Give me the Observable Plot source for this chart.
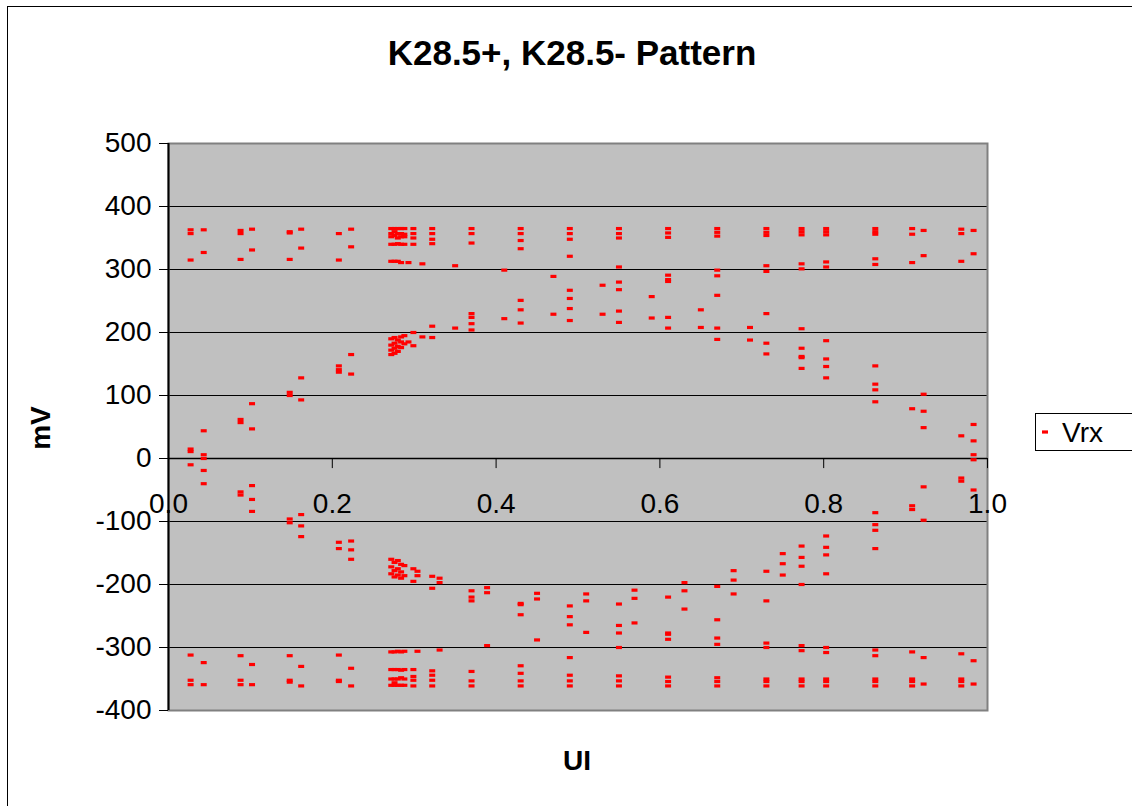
<!DOCTYPE html>
<html><head><meta charset="utf-8">
<script src="https://cdn.jsdelivr.net/npm/d3@7"></script>
<script src="https://cdn.jsdelivr.net/npm/@observablehq/plot@0.6"></script>
<style>html,body{margin:0;padding:0;background:#fff;} svg{display:block}</style>
</head><body><div id="chart"></div><script>
const titleText = "K28.5+, K28.5- Pattern";
const xTitle = "UI";
const yTitle = "mV";
const seriesName = "Vrx";
const xTicks = [0, 0.2, 0.4, 0.6, 0.8, 1.0];
const yTicks = [-400, -300, -200, -100, 0, 100, 200, 300, 400, 500];

// sampling positions (UI) and the voltages (mV) read at each
const uiCols = [0.027, 0.043, 0.088, 0.102, 0.148, 0.162, 0.208, 0.223,
  0.272, 0.276, 0.280, 0.284, 0.288, 0.293, 0.299, 0.304, 0.310, 0.322, 0.331,
  0.350, 0.370, 0.389, 0.410, 0.430, 0.450, 0.470, 0.490, 0.510, 0.530, 0.550,
  0.569, 0.590, 0.610, 0.630, 0.650, 0.670, 0.690, 0.710, 0.730, 0.750, 0.773,
  0.803, 0.863, 0.908, 0.922, 0.968, 0.983];
const mvCols = [
  [363, 357, 315, 15, 11, -10, -312, -352, -359],
  [363, 327, 44, 6, 0, -19, -40, -324, -359],
  [362, 357, 316, 62, 57, -53, -58, -313, -352, -359],
  [364, 331, 87, 47, -43, -65, -84, -327, -359],
  [360, 358, 316, 105, 100, -96, -102, -313, -352, -355],
  [364, 334, 128, 93, -89, -107, -124, -330, -361],
  [357, 315, 147, 141, 137, -133, -143, -312, -352, -354],
  [364, 336, 165, 134, -131, -145, -160, -333, -361],
  [365, 357, 352, 340, 313, 190, 180, 172, 165, -160, -172, -183, -307, -335, -350, -360],
  [365, 360, 354, 340, 313, 192, 183, 175, 167, -165, -178, -188, -307, -335, -350, -356, -360],
  [365, 357, 350, 341, 313, 188, 178, 170, -162, -175, -185, -306, -335, -350, -360],
  [365, 357, 352, 340, 311, 193, 185, 176, -168, -180, -190, -307, -336, -348, -360],
  [365, 356, 352, 340, 195, 182, -170, -186, -306, -335, -350, -360],
  [311, 185],
  [365, 357, 350, 340, 200, 179, -175, -195, -335, -346, -352, -361],
  [-179, -186, -306],
  [309, 193],
  [365, 357, 348, 341, 192, 210, -187, -206, -337, -344, -352, -361],
  [-190, -197, -304],
  [306, 207],
  [365, 357, 342, 230, 224, 214, 204, -210, -220, -226, -338, -353, -361],
  [-205, -213, -297],
  [299, 222],
  [365, 357, 346, 333, 251, 236, 215, -230, -232, -248, -329, -341, -353, -361],
  [-214, -223, -288],
  [289, 229],
  [365, 357, 348, 321, 267, 254, 238, 219, -234, -251, -264, -316, -344, -353, -361],
  [-215, -226, -276],
  [275, 229],
  [365, 357, 350, 304, 280, 268, 234, 216, -231, -265, -277, -300, -345, -353, -361],
  [-209, -222, -261],
  [257, 223],
  [365, 358, 351, 291, 284, 281, 224, 207, -220, -277, -279, -287, -347, -354, -361],
  [-197, -210, -239],
  [236, 208],
  [365, 359, 353, 299, 290, 259, 207, 189, -203, -256, -285, -295, -348, -354, -361],
  [-178, -193, -215],
  [208, 188],
  [365, 359, 354, 306, 297, 230, 183, 166, -179, -226, -293, -300, -350, -354, -361],
  [-151, -167, -185],
  [365, 360, 355, 309, 301, 206, 175, 162, 160, 143, -139, -157, -171, -200, -297, -305, -350, -354, -361],
  [365, 360, 355, 312, 304, 187, 158, 146, 128, -123, -141, -153, -183, -300, -308, -350, -354, -361],
  [365, 360, 356, 317, 308, 147, 118, 109, 90, -86, -105, -114, -143, -304, -313, -350, -354, -361],
  [365, 356, 311, 79, -75, -81, -307, -350, -354, -361],
  [362, 322, 102, 75, 49, -45, -98, -316, -358],
  [364, 357, 313, 36, -31, -36, -310, -350, -354, -361],
  [362, 325, 54, 28, 6, -2, -50, -321, -358]
];

const data = uiCols.flatMap((u, i) => mvCols[i].map(v => ({ui: u, mv: v})));

const dash = {draw(ctx) { ctx.rect(-3, -1.6, 6, 3.2); }};
const FONT = "'Liberation Sans', Arial, sans-serif";

const plot = Plot.plot({
  width: 1132, height: 806,
  marginLeft: 168, marginRight: 145, marginTop: 143, marginBottom: 96,
  style: {fontFamily: FONT, background: "white", color: "black", overflow: "visible"},
  x: {domain: [0, 1], axis: null},
  y: {domain: [-400, 500], axis: null},
  marks: [
    Plot.frame({fill: "#c0c0c0", stroke: null}),
    Plot.gridY(yTicks.filter(d => d !== 0 && d !== 500 && d !== -400), {stroke: "black", strokeOpacity: 1, strokeWidth: 1}),
    Plot.frame({stroke: "#808080", strokeWidth: 2}),
    Plot.ruleY([0], {stroke: "black", strokeWidth: 1.5}),
    Plot.ruleX(xTicks, {x: d => d, y1: 0, y2: -16, stroke: "black", strokeWidth: 1}),
    Plot.ruleX([0], {stroke: "black", strokeWidth: 2}),
    Plot.axisY(yTicks, {tickSize: 9, tickPadding: 8, fontSize: 28, stroke: "black", label: null, tickFormat: d => String(d)}),
    Plot.text(xTicks, {x: d => d, y: 0, text: d => d.toFixed(1), dy: 46, fontSize: 28, fill: "black"}),
    Plot.dot(data, {x: "ui", y: "mv", symbol: dash, r: 3, fill: "#ff0000", stroke: null})
  ]
});

document.getElementById("chart").appendChild(plot);
const svg = d3.select(plot);
svg.append("rect").attr("x", 7.5).attr("y", 6.5).attr("width", 1200).attr("height", 900)
  .attr("fill", "none").attr("stroke", "black").attr("stroke-width", 1);
svg.append("text").attr("x", 572).attr("y", 52).attr("text-anchor", "middle")
  .attr("dominant-baseline", "central").style("font", `bold 35px ${FONT}`).attr("fill", "black").text(titleText);
svg.append("text").attr("x", 577).attr("y", 760).attr("text-anchor", "middle")
  .attr("dominant-baseline", "central").style("font", `bold 28px ${FONT}`).attr("fill", "black").text(xTitle);
svg.append("text").attr("transform", "translate(40,428) rotate(-90)").attr("text-anchor", "middle")
  .attr("dominant-baseline", "central").style("font", `bold 28px ${FONT}`).attr("fill", "black").text(yTitle);
const lg = svg.append("g");
lg.append("rect").attr("x", 1035.5).attr("y", 413.5).attr("width", 100).attr("height", 37)
  .attr("fill", "white").attr("stroke", "black");
lg.append("rect").attr("x", 1042).attr("y", 430.4).attr("width", 6).attr("height", 3.2).attr("fill", "#ff0000");
lg.append("text").attr("x", 1062).attr("y", 432).attr("text-anchor", "start").attr("dominant-baseline", "central")
  .style("font", `28px ${FONT}`).attr("fill", "black").text(seriesName);
</script></body></html>
